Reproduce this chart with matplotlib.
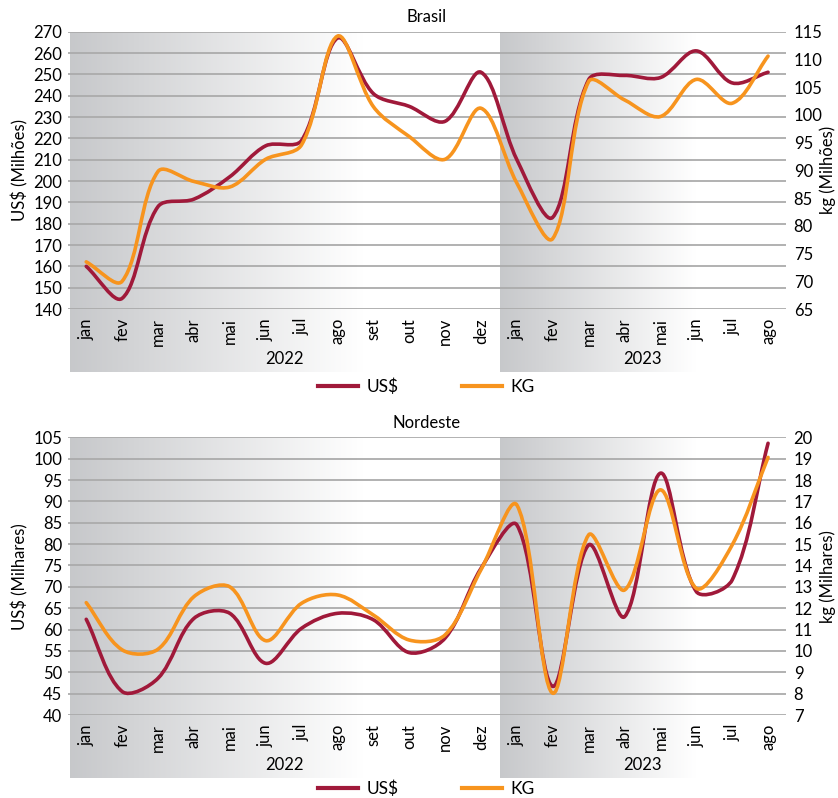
import numpy as np
import matplotlib.pyplot as plt
from matplotlib.path import Path
from matplotlib.patches import PathPatch
from matplotlib.lines import Line2D

plt.rcParams['font.family'] = ['Lato', 'DejaVu Sans']

# Dados
meses = ["jan", "fev", "mar", "abr", "mai", "jun", "jul", "ago", "set", "out", "nov", "dez",
         "jan", "fev", "mar", "abr", "mai", "jun", "jul", "ago"]
anos = ["2022", "2023"]
meses_por_ano = [12, 8]

brasil_usd = [160, 145, 188, 191.5, 202, 216.5, 219, 267, 241, 235, 228, 251,
              210, 183, 247.5, 249.5, 248.5, 261, 246, 251]
brasil_kg = [73.5, 70, 89.8, 88, 87, 92, 94.6, 114.2, 101.5, 96.1, 92, 101.2,
             87.7, 77.7, 106, 102.7, 99.7, 106.4, 102.1, 110.6]

nordeste_usd = [62.4, 45.5, 48.6, 62.6, 63.8, 52.1, 60.3, 63.8, 62.3, 54.6, 58, 74.3,
                84.5, 46.7, 79.8, 63, 96.6, 68.9, 71.6, 103.6]
nordeste_kg = [12.26, 10.05, 10.08, 12.54, 13.0, 10.48, 12.23, 12.62, 11.68, 10.51, 10.75, 13.8,
               16.83, 8.02, 15.43, 12.85, 17.54, 12.93, 14.96, 19.06]

cor_usd = '#a0193a'
cor_kg = '#f7941e'
cor_grade = '#ababab'

W, H = 838, 798


def curva_suave(ax, x, y):
    # curva "suavizada" estilo Excel: Bezier cúbica calculada em pixels,
    # com tangentes proporcionais ao comprimento dos segmentos
    pts = ax.transData.transform(np.column_stack([x, y]).astype(float))
    ext = np.vstack([pts[0], pts, pts[-1]])
    verts = [pts[0]]
    codes = [Path.MOVETO]
    for i in range(len(pts) - 1):
        p0, p1, p2, p3 = ext[i], ext[i + 1], ext[i + 2], ext[i + 3]
        d01 = np.hypot(*(p1 - p0))
        d12 = np.hypot(*(p2 - p1))
        d23 = np.hypot(*(p3 - p2))
        f1 = d12 / (d01 + d12) / 3 if d01 + d12 > 0 else 0
        f2 = d12 / (d12 + d23) / 3 if d12 + d23 > 0 else 0
        verts += [p1 + (p2 - p0) * f1, p2 - (p3 - p1) * f2, p2]
        codes += [Path.CURVE4] * 3
    verts = ax.transData.inverted().transform(np.array(verts))
    return Path(verts, codes)


def fig_rect(x0, y0, x1, y1):
    # pixels (topo-esquerda) -> fração da figura
    return [x0 / W, 1 - y1 / H, (x1 - x0) / W, (y1 - y0) / H]


# gradiente cinza -> branco
u = np.linspace(0, 1, 256)
t = np.clip(u / 0.68, 0, 1)
cinza = np.array([0.78, 0.785, 0.795])
grad = (cinza + (1 - cinza) * t[:, None])[None, :, :]


def painel(topo, base, base_faixa, y_leg, titulo, usd, kg, ylim_e, yt_e, ylim_d, yt_d, lab_e, lab_d):
    x0, x1 = 68.3, 786
    # fundo com faixas dos anos
    bg = fig.add_axes(fig_rect(x0 + 1.5, topo, x1, base_faixa))
    ini = 0
    for ano, n in zip(anos, meses_por_ano):
        bg.imshow(grad, extent=[ini, ini + n, 0, 1], aspect='auto')
        bg.text(ini + n / 2, 13 / (base_faixa - topo), ano, ha='center', va='center', fontsize=12)
        ini += n
    bg.set_xlim(0, 20)
    bg.set_ylim(0, 1)
    bg.axis('off')

    ax = fig.add_axes(fig_rect(x0, topo, x1, base))
    ax.patch.set_visible(False)
    x = np.arange(len(meses))
    ax.set_xlim(-0.5, 19.5)
    ax.set_ylim(*ylim_e)
    ax.set_yticks(yt_e)
    ax.set_xticks(x)
    ax.set_xticklabels(meses)
    ax.yaxis.grid(True, color=cor_grade, lw=1.3)
    ax.set_axisbelow(True)
    ax.tick_params(axis='x', length=0, pad=6.5, rotation=90, labelsize=12)
    ax.tick_params(axis='y', length=0, pad=4.5, labelsize=12)
    for s in ax.spines.values():
        s.set_visible(False)
    ax.add_patch(PathPatch(curva_suave(ax, x, usd), fill=False, edgecolor=cor_usd, lw=2.6,
                           capstyle='round', joinstyle='round'))

    ax2 = ax.twinx()
    ax2.set_ylim(*ylim_d)
    ax2.set_yticks(yt_d)
    ax2.tick_params(axis='y', length=0, pad=5.5, labelsize=12)
    for s in ax2.spines.values():
        s.set_visible(False)
    ax2.add_patch(PathPatch(curva_suave(ax2, x, kg), fill=False, edgecolor=cor_kg, lw=2.6,
                            capstyle='round', joinstyle='round'))

    meio = 1 - (topo + base) / 2 / H
    fig.text(20 / W, meio, lab_e, rotation=90, ha='center', va='center', fontsize=12)
    fig.text(828 / W, meio, lab_d, rotation=90, ha='center', va='center', fontsize=12)
    fig.text(426.5 / W, 1 - (topo - 14.5) / H, titulo, ha='center', va='center', fontsize=12)

    handles = [Line2D([], [], color=cor_usd, lw=3), Line2D([], [], color=cor_kg, lw=3)]
    fig.legend(handles, ["US$", "KG"], loc='center', bbox_to_anchor=(426.5 / W, 1 - y_leg / H),
               ncol=2, frameon=False, fontsize=12.5, handlelength=2.3, handletextpad=0.5,
               columnspacing=3.6)


fig = plt.figure(figsize=(W / 100, H / 100), dpi=100)

painel(31.7, 309, 372, 387, "Brasil", brasil_usd, brasil_kg,
       (140, 270), np.arange(140, 271, 10), (65, 115), np.arange(65, 116, 5),
       "US$ (Milhões)", "kg (Milhões)")
painel(437.3, 715, 777.7, 788.5, "Nordeste", nordeste_usd, nordeste_kg,
       (40, 105), np.arange(40, 106, 5), (7, 20), np.arange(7, 21, 1),
       "US$ (Milhares)", "kg (Milhares)")

plt.savefig("out.png", dpi=100)
